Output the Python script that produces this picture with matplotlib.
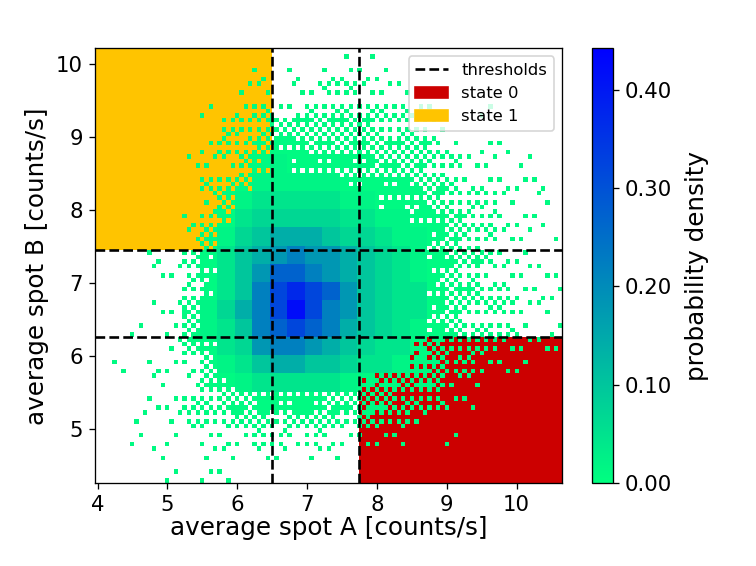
import numpy as np
import matplotlib
matplotlib.use("Agg")
import matplotlib.pyplot as plt
from matplotlib.colors import Normalize
from matplotlib.cm import ScalarMappable
from matplotlib.patches import Patch
from matplotlib.lines import Line2D

# 2D histogram, 0.25 x 0.25 cells, top row first
# '.' = empty, a-d = fringe cells only partly filled (single counts),
# 0-9, A = fully filled cells, density level
density_rows = [
    "..............aa...........",
    ".........a.a.aaaa..........",
    "........aa.aabbaaa.........",
    "......a.abaabbbbbbaa..a....",
    ".......bbbccccccbbba.......",
    "......abbcddcccccccba.aa...",
    ".....aaabd0dddddcccbbaa.a..",
    "......bbc00000ddddccbaaaaa.",
    "......ac01111100dddcbbba.a.",
    ".....abd1222221100ddcbbaaa.",
    ".....ac023444322100dcbbaa.a",
    "...a.bd134565543210dccbaa..",
    "...aabd135776543210dcbaaaaa",
    ".....bd136898753211dccbbaaa",
    "...aac02468A8653211dcbbbaa.",
    "..a.ac0136787643210dcbbba.a",
    "....acd12566543211dcbbbaaaa",
    ".a.aaac01344332110dcbbaaa..",
    "...a.acd0111110dccccaa.....",
    "...aabbccddddccccbbbaa.....",
    "..a.abbbccbcccbcbba........",
    "..a.a.aaabbabaaaaa..a......",
    "...a..aa.aa.aa.............",
    "....a.aa...................",
]
level_value = {"0": 0.02, "1": 0.045, "2": 0.07, "3": 0.10, "4": 0.14,
               "5": 0.18, "6": 0.22, "7": 0.27, "8": 0.32, "9": 0.37, "A": 0.42}
# how many of the 16 sub-bins of a fringe cell are filled
fringe_bins = {"a": 2, "b": 5, "c": 9, "d": 13}
fringe_value = 0.01

x_start, y_start, cell = 3.96, 4.25, 0.25
xlim = (3.957, 10.65)
ylim = (4.25, 10.22)

thresholds_A = [6.50, 7.74]
thresholds_B = [6.264, 7.455]

# ── build image (each cell split in 4x4 sub-bins) ─────
cmap = plt.get_cmap("winter_r")
norm = Normalize(vmin=0.0, vmax=0.442)
order = np.array([[0, 8, 2, 10], [12, 4, 14, 6], [3, 11, 1, 9], [15, 7, 13, 5]])

n_rows, n_cols = len(density_rows), len(density_rows[0])
img = np.zeros((n_rows * 4, n_cols * 4, 4))
for i, row in enumerate(density_rows[::-1]):
    for j, ch in enumerate(row):
        block = img[i * 4:(i + 1) * 4, j * 4:(j + 1) * 4]
        if ch in level_value:
            block[:, :] = cmap(norm(level_value[ch]))
        elif ch in fringe_bins:
            pat = np.roll(np.roll(order, i, axis=0), 2 * j + i, axis=1)
            block[pat < fringe_bins[ch]] = cmap(norm(fringe_value))

fig = plt.figure(figsize=(756 / 118, 566 / 118), dpi=118)
ax = fig.add_axes([0.125, 0.1461, 0.6184, 0.7686])
cax = fig.add_axes([0.783, 0.1461, 0.028, 0.7686])

# state regions (behind histogram)
ax.fill_between([thresholds_A[1], xlim[1]], ylim[0], thresholds_B[0],
                color="#cc0000", lw=0, zorder=1)
ax.fill_between([xlim[0], thresholds_A[0]], thresholds_B[1], ylim[1],
                color="#ffc400", lw=0, zorder=1)

ax.imshow(img, origin="lower", interpolation="nearest", aspect="auto",
          extent=(x_start, x_start + cell * n_cols, y_start, y_start + cell * n_rows),
          zorder=2)

for xv in thresholds_A:
    ax.axvline(xv, color="black", ls="--", lw=1.6, zorder=3)
for yv in thresholds_B:
    ax.axhline(yv, color="black", ls="--", lw=1.6, zorder=3)

ax.set_xlim(*xlim)
ax.set_ylim(*ylim)
ax.set_xticks([4, 5, 6, 7, 8, 9, 10])
ax.set_yticks([5, 6, 7, 8, 9, 10])
ax.tick_params(labelsize=13)
ax.set_xlabel("average spot A [counts/s]", fontsize=15, labelpad=1)
ax.set_ylabel("average spot B [counts/s]", fontsize=15, labelpad=4)

handles = [Line2D([], [], color="black", ls="--", lw=1.6),
           Patch(color="#cc0000"), Patch(color="#ffc400")]
ax.legend(handles, ["thresholds", "state 0", "state 1"], loc="upper right",
          fontsize=10)

cb = fig.colorbar(ScalarMappable(norm=norm, cmap=cmap), cax=cax)
cb.set_ticks([0.0, 0.1, 0.2, 0.3, 0.4])
cb.ax.set_yticklabels(["0.00", "0.10", "0.20", "0.30", "0.40"])
cb.ax.tick_params(labelsize=13)
cb.set_label("probability density", fontsize=15, labelpad=8)

fig.savefig("out.png", dpi=118)
